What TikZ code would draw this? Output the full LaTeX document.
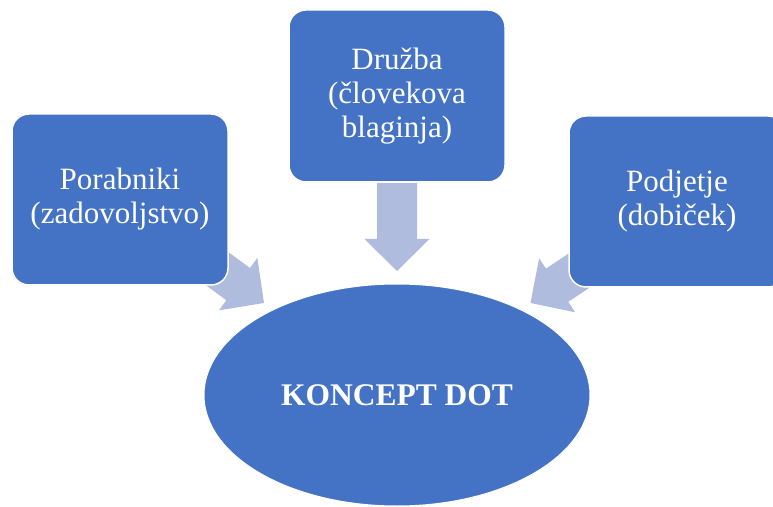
\documentclass[tikz,border=0pt]{standalone}
\usepackage{fontspec}
\setmainfont{Liberation Serif}
\usetikzlibrary{shapes.geometric}
\definecolor{boxblue}{HTML}{4472C4}
\definecolor{arrowblue}{HTML}{B0BCDE}
\tikzset{
  box/.style={draw=white, line width=1.5pt, fill=boxblue, rounded corners=17pt,
    minimum width=216pt, minimum height=171pt, inner sep=0pt, text=white,
    align=center, font=\fontsize{31pt}{34pt}\selectfont},
  oval/.style={ellipse, draw=white, line width=1pt, fill=boxblue,
    minimum width=386pt, minimum height=222pt, inner sep=0pt, text=white,
    font=\fontsize{31.5pt}{34pt}\selectfont\bfseries},
  blockarrow/.style={fill=arrowblue, draw=none}
}
\newcommand{\blockarrowshape}{(-88,-20) -- (-32,-20) -- (-32,-32.5) -- (0,0) -- (-32,32.5) -- (-32,20) -- (-88,20) -- cycle}
\begin{document}
\begin{tikzpicture}[x=1pt,y=1pt]
\useasboundingbox (0,0) rectangle (773,506);
\clip (0,0) rectangle (773,506);
% arrows (behind boxes)
\coordinate (tipL) at (264,203);
\coordinate (tipM) at (397,235);
\coordinate (tipR) at (530.5,203);
\begin{scope}[shift={(tipL)}, rotate=-36.2]
  \fill[blockarrow] \blockarrowshape;
\end{scope}
\begin{scope}[shift={(tipM)}, rotate=-90]
  \fill[blockarrow] \blockarrowshape;
\end{scope}
\begin{scope}[shift={(tipR)}, rotate=-146.3]
  \fill[blockarrow] \blockarrowshape;
\end{scope}
% boxes
\node[box] (por) at (120,306.5) {Porabniki\\(zadovoljstvo)};
\node[box, minimum height=172pt] (druz) at (397,410) {Družba\\(človekova\\blaginja)};
\node[box] (podj) at (677,304.5) {Podjetje\\(dobiček)};
% ellipse
\node[oval] (dot) at (397,111) {KONCEPT DOT};
\end{tikzpicture}
\end{document}
